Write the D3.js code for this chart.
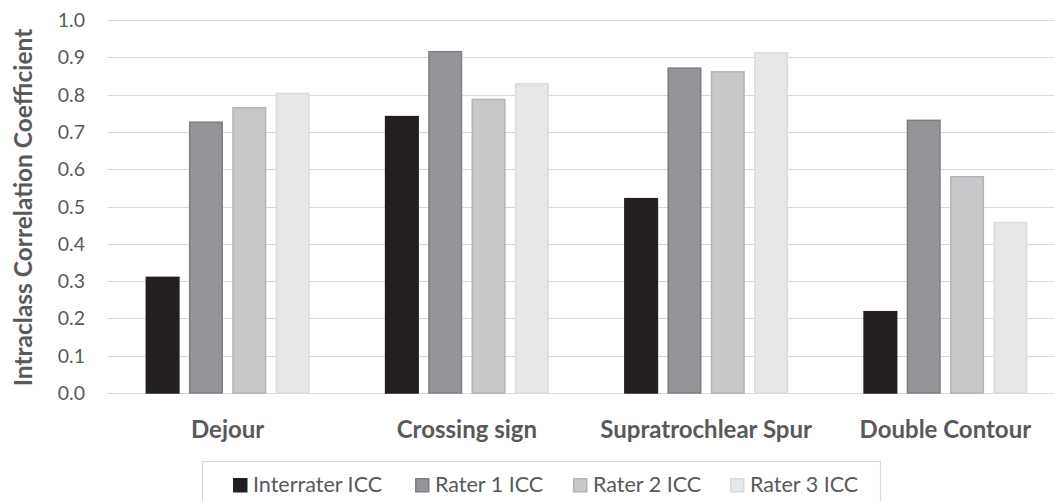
<!DOCTYPE html>
<html>
<head>
<meta charset="utf-8">
<script src="https://cdn.jsdelivr.net/npm/d3@7"></script>
<style>
html, body { margin: 0; padding: 0; background: #fff; }
svg { display: block; }
</style>
</head>
<body>
<svg id="chart" width="1054" height="501"></svg>
<script>
const categories = ["Dejour", "Crossing sign", "Supratrochlear Spur", "Double Contour"];
const seriesNames = ["Interrater ICC", "Rater 1 ICC", "Rater 2 ICC", "Rater 3 ICC"];
const interrater = [0.31, 0.741, 0.521, 0.218];
const rater1 = [0.726, 0.915, 0.871, 0.731];
const rater2 = [0.765, 0.787, 0.861, 0.580];
const rater3 = [0.803, 0.829, 0.912, 0.457];
const yTicks = [0, 0.1, 0.2, 0.3, 0.4, 0.5, 0.6, 0.7, 0.8, 0.9, 1.0];
const yTitle = "Intraclass Correlation Coefficient";

const seriesValues = [interrater, rater1, rater2, rater3];
const fills = ["#231f20", "#939598", "#c7c8ca", "#e6e7e8"];
const strokes = ["#231f20", "#7d7f82", "#b2b4b7", "#dadbdd"];

const svg = d3.select("#chart");
const font = "Lato, 'Open Sans', sans-serif";
const textColor = "#595959";

const plot = { left: 108, right: 1065, top: 20, bottom: 393 };

const x0 = d3.scaleBand().domain(categories).range([plot.left, plot.right]).paddingInner(0).paddingOuter(0);
const x1 = d3.scaleBand().domain(seriesNames)
  .range([37.6, x0.bandwidth() - 37.6]).paddingInner(0.214).paddingOuter(0);
const y = d3.scaleLinear().domain([0, 1]).range([plot.bottom, plot.top]);

// gridlines
svg.append("g").selectAll("line").data(yTicks).join("line")
  .attr("x1", plot.left).attr("x2", plot.right)
  .attr("y1", d => Math.round(y(d)) + 0.5).attr("y2", d => Math.round(y(d)) + 0.5)
  .attr("stroke", "#d9d9d9").attr("stroke-width", 1.2);

// y tick labels
svg.append("g").selectAll("text").data(yTicks).join("text")
  .attr("x", 85).attr("y", d => y(d))
  .attr("dy", "0.36em")
  .attr("text-anchor", "end")
  .attr("font-family", font).attr("font-size", 19.5)
  .attr("fill", textColor)
  .text(d => d3.format(".1f")(d));

// y title
svg.append("text")
  .attr("transform", `translate(32, ${(25 + 390) / 2}) rotate(-90)`)
  .attr("text-anchor", "middle")
  .attr("font-family", font).attr("font-size", 24.5).attr("font-weight", "bold")
  .attr("fill", textColor)
  .text(yTitle);

// bars
const groups = svg.append("g").selectAll("g").data(categories).join("g")
  .attr("transform", c => `translate(${x0(c)},0)`);

groups.selectAll("rect").data((c, ci) => seriesNames.map((s, si) => ({ s, si, v: seriesValues[si][ci] })))
  .join("rect")
  .attr("x", d => x1(d.s) + 0.75)
  .attr("width", x1.bandwidth() - 1.5)
  .attr("y", d => y(d.v))
  .attr("height", d => y(0) - y(d.v))
  .attr("fill", d => fills[d.si])
  .attr("stroke", d => strokes[d.si])
  .attr("stroke-width", 1.5);

// category labels
svg.append("g").selectAll("text").data(categories).join("text")
  .attr("x", c => x0(c) + x0.bandwidth() / 2)
  .attr("y", 438)
  .attr("text-anchor", "middle")
  .attr("font-family", font).attr("font-size", 24).attr("font-weight", "bold")
  .attr("fill", textColor)
  .text(c => c);

// legend
svg.append("rect")
  .attr("x", 202.5).attr("y", 461.5).attr("width", 678).attr("height", 60)
  .attr("fill", "none").attr("stroke", "#d9d9d9").attr("stroke-width", 1.2);

const legendX = [233, 415, 573, 730];
const leg = svg.append("g").selectAll("g").data(seriesNames).join("g")
  .attr("transform", (d, i) => `translate(${legendX[i]}, 478)`);
leg.append("rect")
  .attr("x", 0.75).attr("y", 0.75).attr("width", 13).attr("height", 13)
  .attr("fill", (d, i) => fills[i]).attr("stroke", (d, i) => strokes[i]).attr("stroke-width", 1.5);
leg.append("text")
  .attr("x", 20).attr("y", 13.5)
  .attr("font-family", font).attr("font-size", 21.5)
  .attr("fill", textColor)
  .text(d => d);
</script>
</body>
</html>
